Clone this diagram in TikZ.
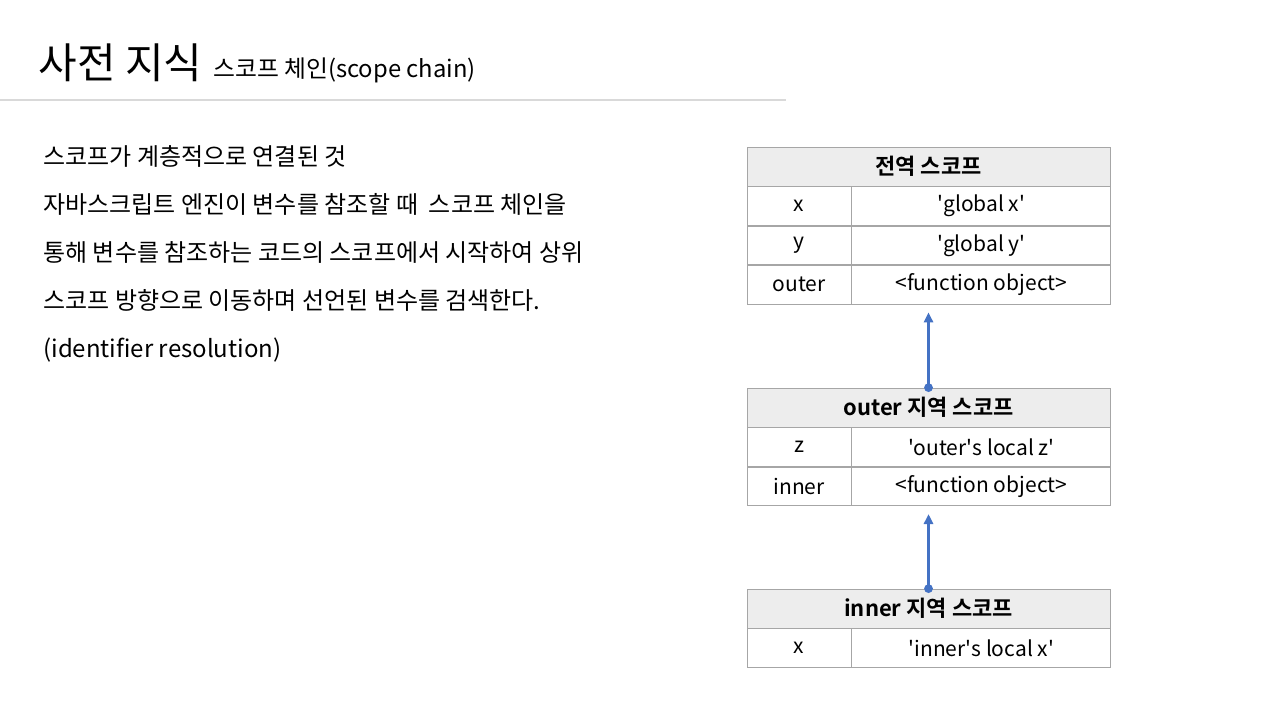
\documentclass[tikz,border=0pt]{standalone}
\usepackage{fontspec}
\setmainfont{Noto Sans CJK KR}[BoldFont={Noto Sans CJK KR Bold}]
\usetikzlibrary{positioning,arrows.meta}
\definecolor{chainblue}{HTML}{4472C4}
\definecolor{cellline}{HTML}{A6A6A6}
\definecolor{headfill}{HTML}{EDEDED}
\definecolor{ruleline}{HTML}{D9D9D9}
\newcommand{\q}{\textquotesingle}
\tikzset{
  head/.style={draw=cellline, fill=headfill, minimum width=181.5pt, minimum height=19.5pt,
    inner sep=0pt, font=\bfseries\fontsize{11}{13}\selectfont},
  keycell/.style={draw=cellline, minimum width=52pt, minimum height=19.25pt,
    inner sep=0pt, anchor=north west, font=\fontsize{10.5}{12}\selectfont},
  valcell/.style={keycell, minimum width=129.5pt},
  bodytext/.style={anchor=base west, inner sep=0pt, font=\fontsize{12}{14}\selectfont},
  chainarrow/.style={draw=chainblue, line width=1.4pt, -{Triangle[length=5pt,width=4.5pt]}, shorten >=4pt}
}
\begin{document}
\begin{tikzpicture}[x=0.5pt,y=-0.5pt]
\useasboundingbox (0,0) rectangle (1280,720);
%제목
\node[anchor=base west, inner sep=0pt, font=\fontsize{21}{24}\selectfont] (title) at (38,78) {사전 지식};
\node[anchor=base west, inner sep=0pt, font=\fontsize{11.9}{14}\selectfont] (subtitle) at (213,77) {스코프 체인(scope chain)};
\draw[ruleline, line width=1pt] (0,100) -- (786,100);
% 본문
\foreach \txt [count=\i] in {스코프가 계층적으로 연결된 것,
  자바스크립트 엔진이 변수를 참조할 때 ~스코프 체인을,
  통해 변수를 참조하는 코드의 스코프에서 시작하여 상위,
  스코프 방향으로 이동하며 선언된 변수를 검색한다.,
  (identifier resolution)}
  \node[bodytext] (t\i) at (43,117+48*\i) {\txt};
% 전역 스코프
\node[head] (globalhead) at (928.5,166.5) {전역 스코프};
\node[keycell] (gk1) at (globalhead.south west) {x};
\node[valcell] (gv1) at (gk1.north east) {\q global x\q};
\node[keycell] (gk2) at (gk1.south west) {y};
\node[valcell] (gv2) at (gk2.north east) {\q global y\q};
\node[keycell] (gk3) at (gk2.south west) {outer};
\node[valcell] (gv3) at (gk3.north east) {<function object>};
% outer 지역 스코프
\node[head] (outerhead) at (928.5,407.5) {outer 지역 스코프};
\node[keycell] (ok1) at (outerhead.south west) {z};
\node[valcell] (ov1) at (ok1.north east) {\q outer\q s local z\q};
\node[keycell] (ok2) at (ok1.south west) {inner};
\node[valcell] (ov2) at (ok2.north east) {<function object>};
% inner 지역 스코프
\node[head] (innerhead) at (928.5,608.5) {inner 지역 스코프};
\node[keycell] (ik1) at (innerhead.south west) {x};
\node[valcell] (iv1) at (ik1.north east) {\q inner\q s local x\q};
% 스코프 체인
\draw[chainarrow] (outerhead.north) -- (outerhead.north |- gv3.south);
\draw[chainarrow] (innerhead.north) -- (innerhead.north |- ov2.south);
\fill[chainblue] (outerhead.north) circle (2.2pt);
\fill[chainblue] (innerhead.north) circle (2.2pt);
\end{tikzpicture}
\end{document}
